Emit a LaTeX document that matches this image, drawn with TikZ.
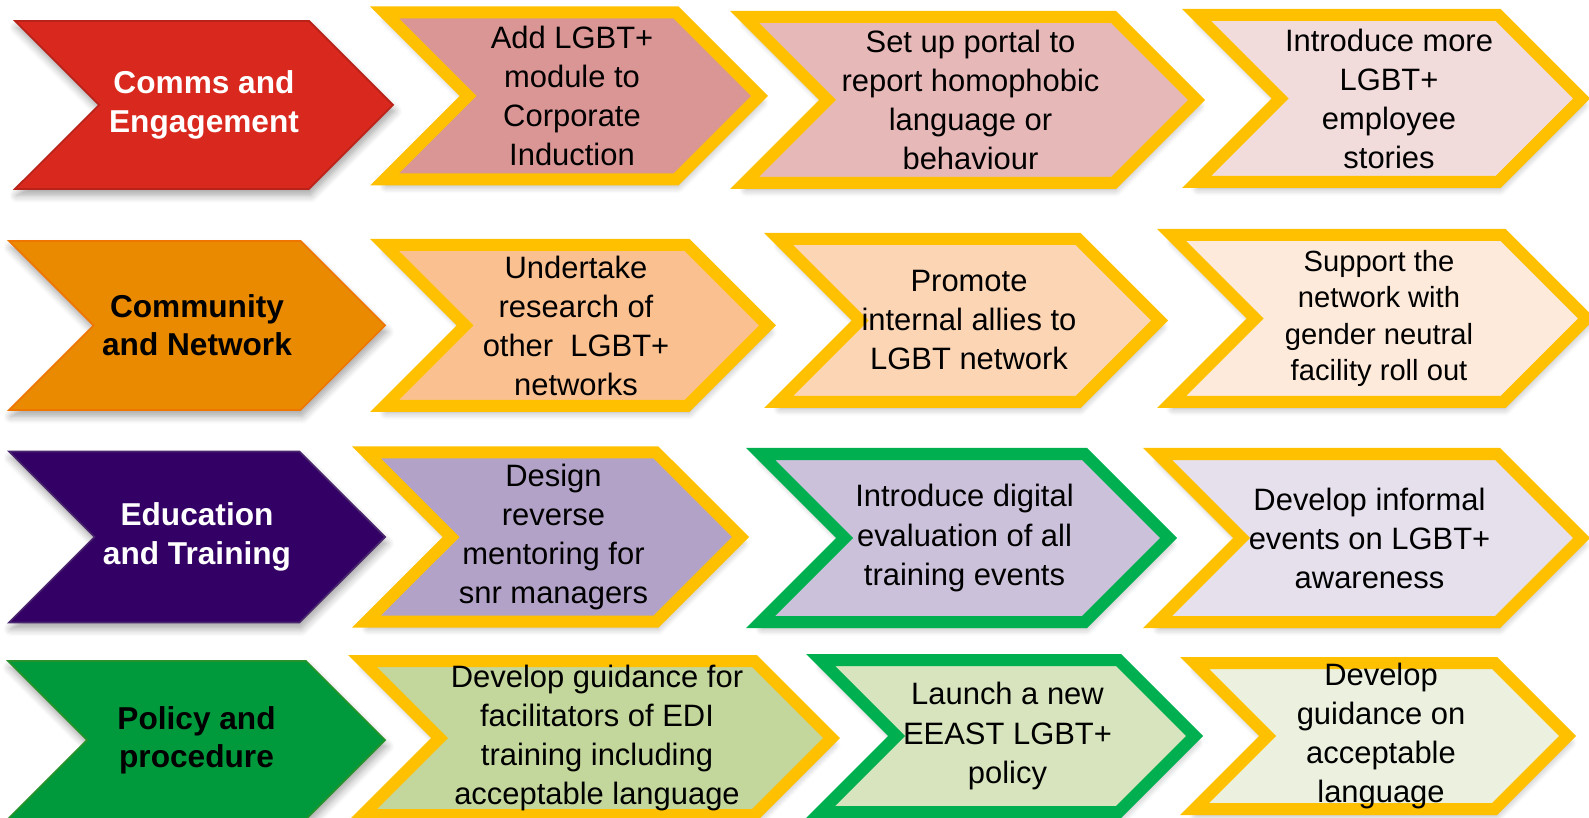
\documentclass[tikz,border=0pt]{standalone}
\usepackage{fontspec}
\setmainfont{Liberation Sans}
\usepackage{tikz}
\usetikzlibrary{shapes.symbols,shadows.blur}
\definecolor{commsred}{RGB}{217,40,30}
\definecolor{commorange}{RGB}{234,138,0}
\definecolor{eduviolet}{RGB}{51,0,102}
\definecolor{policygreen}{RGB}{0,154,61}
\definecolor{amber}{RGB}{255,192,0}
\definecolor{leafgreen}{RGB}{0,176,80}
% fills, dark to light along each row
\definecolor{redA}{RGB}{217,150,148}
\definecolor{redB}{RGB}{230,185,184}
\definecolor{redC}{RGB}{242,220,219}
\definecolor{orA}{RGB}{250,192,144}
\definecolor{orB}{RGB}{252,213,181}
\definecolor{orC}{RGB}{253,234,218}
\definecolor{viA}{RGB}{179,162,199}
\definecolor{viB}{RGB}{204,193,218}
\definecolor{viC}{RGB}{230,224,236}
\definecolor{grA}{RGB}{195,214,155}
\definecolor{grB}{RGB}{215,228,189}
\definecolor{grC}{RGB}{235,241,222}
\newcommand{\themefont}{\fontsize{9}{10.9}\selectfont\bfseries}
\newcommand{\actfont}{\fontsize{8.8}{11.1}\selectfont}
\tikzset{
  chev/.style={shape=signal, signal from=west, signal to=east,
               signal pointer angle=90, align=center, inner sep=0pt,
               line join=miter,
               blur shadow={shadow xshift=.5pt, shadow yshift=-1.8pt,
                            shadow opacity=35, shadow blur steps=6}},
  themechev/.style={chev, font=\themefont, line width=.5pt},
  taskchev/.style={chev, draw=amber, line width=1.2mm, font=\actfont},
  donechev/.style={taskchev, draw=leafgreen}
}

\begin{document}
\begin{tikzpicture}
  \useasboundingbox (0,0) rectangle (15.89,8.17);

  % themes
  \node[themechev, fill=commsred, draw=commsred!85!black, text=white,
        minimum width=3.78cm, minimum height=1.68cm] (comms) at (2.04,7.12)
    {Comms and\\Engagement};
  \node[themechev, fill=commorange, draw=commorange!85!red,
        minimum width=3.76cm, minimum height=1.69cm] (community) at (1.97,4.915)
    {Community\\and Network};
  \node[themechev, fill=eduviolet, draw=eduviolet!70!gray, text=white,
        minimum width=3.76cm, minimum height=1.71cm] (education) at (1.97,2.80)
    {Education\\and Training};
  \node[themechev, fill=policygreen, draw=policygreen!70!olive,
        minimum width=3.77cm, minimum height=1.58cm] (policy) at (1.965,0.77)
    {Policy and\\procedure};

  % comms and engagement
  \node[taskchev, fill=redA, minimum width=3.75cm, minimum height=1.67cm]
    (induction) at (5.72,7.21) {Add LGBT+\\module to\\Corporate\\Induction};
  \node[taskchev, fill=redB, minimum width=4.52cm, minimum height=1.66cm]
    (portal) at (9.705,7.17) {Set up portal to\\report homophobic\\language or\\behaviour};
  \node[taskchev, fill=redC, minimum width=3.85cm, minimum height=1.67cm]
    (stories) at (13.89,7.185) {Introduce more\\LGBT+\\employee\\stories};

  % community and network
  \node[taskchev, fill=orA, minimum width=3.83cm, minimum height=1.61cm]
    (research) at (5.76,4.915) {Undertake\\research of\\other\ \ LGBT+\\networks};
  \node[taskchev, fill=orB, minimum width=3.81cm, minimum height=1.63cm]
    (allies) at (9.69,4.965) {Promote\\internal allies to\\LGBT network};
  \node[taskchev, fill=orC, minimum width=4.15cm, minimum height=1.67cm,
        font=\fontsize{8.3}{10.3}\selectfont]
    (facility) at (13.79,4.985) {Support the\\network with\\gender neutral\\facility roll out};

  % education and training
  \node[taskchev, fill=viA, minimum width=3.74cm, minimum height=1.69cm]
    (mentoring) at (5.535,2.80) {Design\\reverse\\mentoring for\\snr managers};
  \node[donechev, fill=viB, minimum width=4.08cm, minimum height=1.68cm]
    (evaluation) at (9.645,2.79) {Introduce digital\\evaluation of all\\training events};
  \node[taskchev, fill=viC, minimum width=4.24cm, minimum height=1.68cm]
    (awareness) at (13.695,2.79) {Develop informal\\events on LGBT+\\awareness};

  % policy and procedure
  \node[taskchev, fill=grA, minimum width=4.69cm, minimum height=1.54cm]
    (facilitators) at (5.97,0.79) {Develop guidance for\\facilitators of EDI\\training including\\acceptable language};
  \node[donechev, fill=grB, minimum width=3.74cm, minimum height=1.52cm]
    (newpolicy) at (10.075,0.81) {Launch a new\\EEAST LGBT+\\policy};
  \node[taskchev, fill=grC, minimum width=3.73cm, minimum height=1.46cm]
    (language) at (13.81,0.81) {Develop\\guidance on\\acceptable\\language};
\end{tikzpicture}
\end{document}
